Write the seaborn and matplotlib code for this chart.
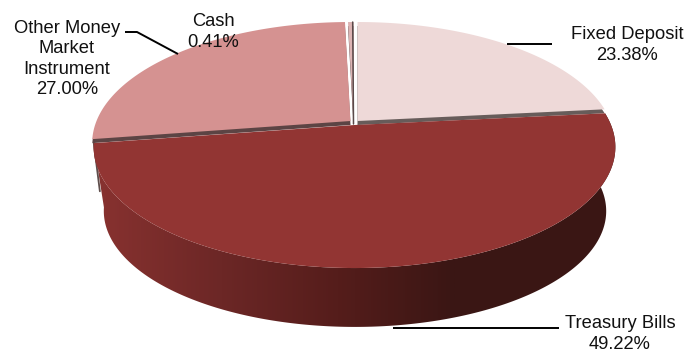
import numpy as np
import matplotlib
matplotlib.use("Agg")
import matplotlib.pyplot as plt
from matplotlib.patches import Polygon
import seaborn as sns

# Portfolio allocation, percent of the total, clockwise from twelve o'clock
labels = ["Fixed Deposit", "Treasury Bills", "Other Money\nMarket\nInstrument", "Cash"]
shares = [23.38, 49.22, 27.00, 0.41]
top_colours = ["#EED9D8", "#923533", "#D59291", "#DDB4B4"]
edge_colours = ["#675C5A", "#5C4444", "#5C4444", "#5A4A4A"]
wall_stops = ["#86312F", "#6C2726", "#551D1B", "#3A1614"]

sns.set_theme(style="white")
plt.rcParams["font.family"] = ["Liberation Sans", "DejaVu Sans"]

PERSPECTIVE = 0.182


def project(theta, cx, cy, a, b):
    """Map clockwise angles on the tilted disc to canvas x, y."""
    u, v = np.sin(theta), np.cos(theta)
    w = 1 + PERSPECTIVE * v
    return cx + a * u / w, cy - b * v / w


def wedge(start, stop, cx, cy, a, b):
    t = np.linspace(start, stop, 240)
    x, y = project(t, cx, cy, a, b)
    return np.r_[cx, x, cx], np.r_[cy, y, cy]


fractions = np.array(shares) / sum(shares)
edges = np.r_[0, np.cumsum(fractions)] * 2 * np.pi
spans = list(zip(edges[:-1], edges[1:]))

fig = plt.figure(figsize=(6.99, 3.52), dpi=100)
ax = fig.add_axes([0, 0, 1, 1])
ax.set_xlim(0, 699)
ax.set_ylim(352, 0)
ax.axis("off")

# Outer wall of the exploded Treasury Bills slice, shaded by horizontal position
t0, t1 = spans[1]
rim = (354.5, 125, 256.5, 117)
base = (355, 190, 247, 112)
wall_t = np.linspace(t0, t1, 240)
xt, yt = project(wall_t, *rim)
xb, yb = project(wall_t, *base)
outline = Polygon(np.c_[np.r_[xt, xb[::-1]], np.r_[yt, yb[::-1]]], closed=True,
                  transform=ax.transData, fc="none", ec="none")
ax.add_patch(outline)
shades = np.array(sns.blend_palette(wall_stops, n_colors=256))[np.newaxis, :, :]
gradient = ax.imshow(shades, extent=(105, 455, 352, 0), aspect="auto",
                     interpolation="bilinear", zorder=1)
gradient.set_clip_path(outline)
# Extend the outermost shades across the full width of the wall
for side, span in (((0,), (85, 105)), ((-1,), (455, 640))):
    cap = ax.imshow(shades[:, side, :], extent=(span[0], span[1], 352, 0), aspect="auto", zorder=1)
    cap.set_clip_path(outline)
ax.set_xlim(0, 699)
ax.set_ylim(352, 0)

# Cut face of the Treasury slice along its left end
end_xt, end_yt = project(t1, *rim)
end_xb, end_yb = project(t1, *base)
ax.plot([end_xt, end_xt + (end_xb - end_xt) * 0.6], [end_yt, end_yt + (end_yb - end_yt) * 0.75],
        color="#5F4E4C", lw=1.3, zorder=2)

# Treasury Bills top face
x, y = wedge(t0, t1, *rim)
ax.fill(x, y, color=top_colours[1], lw=0, zorder=5)

# Upper slices: a grey copy shifted down gives the visible cut face
upper = {0: (357.5, 121, 253, 117), 2: (350.5, 121, 254, 117), 3: (353.5, 121, 254, 117)}
for i, geom in upper.items():
    start, stop = spans[i]
    x, y = wedge(start, stop, *geom)
    ax.fill(x, y + 4, color=edge_colours[i], lw=0, zorder=3)
    ax.fill(x, y, color=top_colours[i], lw=0, zorder=4)

# Dark inner side of the narrow Cash slice
start, stop = spans[3]
tip_x, tip_y = project(stop, *upper[3])
ax.plot([upper[3][0], tip_x - 0.8], [upper[3][1] + 3, tip_y], color="#5A4A4A", lw=1.1, zorder=4)

# Leader lines
leader_style = dict(color="black", lw=1.4, solid_capstyle="butt", zorder=6)
ax.plot([125, 137, 178], [32, 32, 54], **leader_style)
ax.plot([507, 552], [44, 44], **leader_style)
ax.plot([393, 559], [328, 328], **leader_style)

# Slice labels
spots = [(627, 45), (620, 334), (67, 59), (213, 32)]
for name, share, (lx, ly) in zip(labels, shares, spots):
    ax.text(lx, ly, f"{name}\n{share:.2f}%", ha="center", va="center",
            fontsize=13.2, color="#111111", linespacing=1.27, zorder=7)

fig.savefig("out.png", dpi=100, facecolor="white")
